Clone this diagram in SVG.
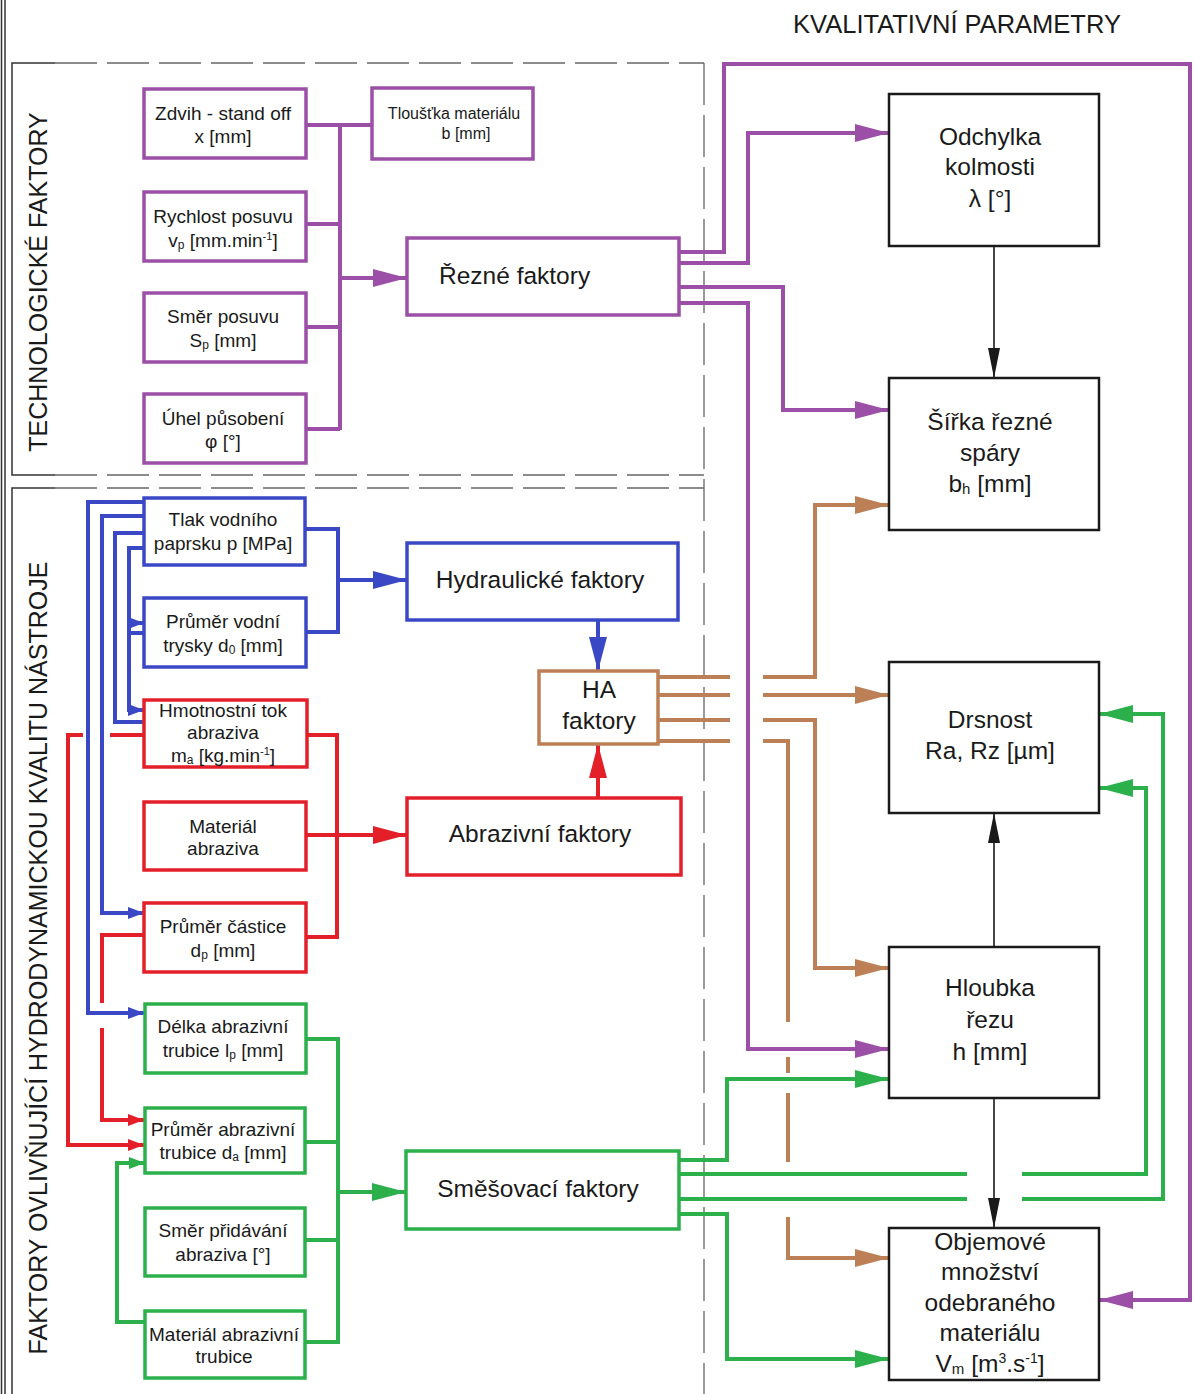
<svg xmlns="http://www.w3.org/2000/svg" width="1195" height="1394" viewBox="0 0 1195 1394">
<style>
text{font-family:"Liberation Sans",Arial,sans-serif;fill:#1a1a1a;text-anchor:middle}
.s{font-size:19px}
.m{font-size:16px}
.b{font-size:24.5px}
.v{font-size:25px}
.box{fill:#fff;stroke-width:3.5}
.kp{fill:#fff;stroke:#1a1a1a;stroke-width:2.5}
.P{stroke:#9b4fa6}.B{stroke:#3b48c6}.R{stroke:#e3202a}.G{stroke:#2bb04c}.N{stroke:#bd8056}
.c{fill:none;stroke-width:4}
.k{fill:none;stroke:#1a1a1a;stroke-width:1.6}
.fr{fill:none;stroke:#333;stroke-width:1.5}
.dash{fill:none;stroke:#666;stroke-width:1.3;stroke-dasharray:42 10}
</style>
<defs>
<marker id="aP" viewBox="0 0 34 18" refX="34" refY="9" markerWidth="34" markerHeight="18" markerUnits="userSpaceOnUse" orient="auto"><path d="M0,0L34,9L0,18z" fill="#9b4fa6"/></marker>
<marker id="aB" viewBox="0 0 34 18" refX="34" refY="9" markerWidth="34" markerHeight="18" markerUnits="userSpaceOnUse" orient="auto"><path d="M0,0L34,9L0,18z" fill="#3b48c6"/></marker>
<marker id="aR" viewBox="0 0 34 18" refX="34" refY="9" markerWidth="34" markerHeight="18" markerUnits="userSpaceOnUse" orient="auto"><path d="M0,0L34,9L0,18z" fill="#e3202a"/></marker>
<marker id="aG" viewBox="0 0 34 18" refX="34" refY="9" markerWidth="34" markerHeight="18" markerUnits="userSpaceOnUse" orient="auto"><path d="M0,0L34,9L0,18z" fill="#2bb04c"/></marker>
<marker id="aN" viewBox="0 0 34 18" refX="34" refY="9" markerWidth="34" markerHeight="18" markerUnits="userSpaceOnUse" orient="auto"><path d="M0,0L34,9L0,18z" fill="#bd8056"/></marker>
<marker id="sB" viewBox="0 0 16 12" refX="16" refY="6" markerWidth="16" markerHeight="12" markerUnits="userSpaceOnUse" orient="auto"><path d="M0,0L16,6L0,12z" fill="#3b48c6"/></marker>
<marker id="sR" viewBox="0 0 16 12" refX="16" refY="6" markerWidth="16" markerHeight="12" markerUnits="userSpaceOnUse" orient="auto"><path d="M0,0L16,6L0,12z" fill="#e3202a"/></marker>
<marker id="sG" viewBox="0 0 16 12" refX="16" refY="6" markerWidth="16" markerHeight="12" markerUnits="userSpaceOnUse" orient="auto"><path d="M0,0L16,6L0,12z" fill="#2bb04c"/></marker>
<marker id="aK" viewBox="0 0 30 12" refX="30" refY="6" markerWidth="30" markerHeight="12" markerUnits="userSpaceOnUse" orient="auto"><path d="M0,0L30,6L0,12z" fill="#1a1a1a"/></marker>
</defs>
<rect width="1195" height="1394" fill="#fff"/>
<g id="frames">
<line class="fr" x1="1.5" y1="0" x2="1.5" y2="1394"/>
<line class="fr" x1="5" y1="0" x2="5" y2="1394" stroke-width="1"/>
<path class="fr" d="M55,63H12V475H55"/>
<path class="dash" d="M55,63H704M55,475H704"/>
<path class="fr" d="M55,488H12V1394"/>
<path class="dash" d="M55,488H704"/>
<path class="dash" d="M704,63V1394"/>
<text class="v" transform="translate(47,282) rotate(-90)">TECHNOLOGICKÉ FAKTORY</text>
<text class="v" transform="translate(47,958) rotate(-90)">FAKTORY OVLIVŇUJÍCÍ HYDRODYNAMICKOU KVALITU NÁSTROJE</text>
<text class="v" x="957" y="33" style="font-size:25.5px">KVALITATIVNÍ PARAMETRY</text>
</g>
<g id="connectors">
<path class="c P" d="M306,125H372M340,125V430M306,224H340M306,327H340M306,429H340"/>
<path class="c P" d="M340,278H407" marker-end="url(#aP)"/>
<path class="c P" d="M679,252H724V64H1190V1300H1099" marker-end="url(#aP)"/>
<path class="c P" d="M679,263H748V133H889" marker-end="url(#aP)"/>
<path class="c P" d="M679,287H783V410H889" marker-end="url(#aP)"/>
<path class="c P" d="M679,303H748V1049H889" marker-end="url(#aP)"/>
<path class="c B" d="M305,529H338V632H306"/>
<path class="c B" d="M338,580H407" marker-end="url(#aB)"/>
<path class="c B" d="M598,620V671" marker-end="url(#aB)"/>
<path class="c B" d="M144,502H88V1013H144" marker-end="url(#sB)"/>
<path class="c B" d="M144,516H102V913H144" marker-end="url(#sB)"/>
<path class="c B" d="M144,533H115V722H144"/>
<path class="c B" d="M144,548H129V710H144" marker-end="url(#sB)"/>
<path class="c B" d="M129,623H144" marker-end="url(#sB)"/>
<path class="c B" d="M144,633H129"/>
<path class="c R" d="M307,735H337V937H306"/>
<path class="c R" d="M306,835H407" marker-end="url(#aR)"/>
<path class="c R" d="M598,798V744" marker-end="url(#aR)"/>
<path class="c R" d="M144,735H110"/>
<path class="c R" d="M83,735H68V1145H144" marker-end="url(#sR)"/>
<path class="c R" d="M144,935H102V1003"/>
<path class="c R" d="M102,1028V1120H144" marker-end="url(#sR)"/>
<path class="c N" d="M658,677H730M658,695H730M658,720H730M658,741H730"/>
<path class="c N" d="M763,677H815V505H889" marker-end="url(#aN)"/>
<path class="c N" d="M763,695H889" marker-end="url(#aN)"/>
<path class="c N" d="M763,720H815V968H889" marker-end="url(#aN)"/>
<path class="c N" d="M763,741H788V1022M788,1057V1073M788,1093V1162"/>
<path class="c N" d="M788,1217V1258H889" marker-end="url(#aN)"/>
<path class="c G" d="M306,1039H338V1342H305M305,1142H338M305,1240H338"/>
<path class="c G" d="M338,1192H406" marker-end="url(#aG)"/>
<path class="c G" d="M145,1322H117V1163H145" marker-end="url(#sG)"/>
<path class="c G" d="M679,1160H727V1079H889" marker-end="url(#aG)"/>
<path class="c G" d="M679,1174H967"/>
<path class="c G" d="M1022,1174H1146V788H1099" marker-end="url(#aG)"/>
<path class="c G" d="M679,1199H967"/>
<path class="c G" d="M1022,1199H1163V714H1099" marker-end="url(#aG)"/>
<path class="c G" d="M679,1214H727V1359H889" marker-end="url(#aG)"/>
<path class="k" d="M994,246V378" marker-end="url(#aK)"/>
<path class="k" d="M994,947V813" marker-end="url(#aK)"/>
<path class="k" d="M994,1098V1228" marker-end="url(#aK)"/>
</g>
<g id="n-zdvih"><rect class="box P" x="144" y="89" width="162" height="69"/><text class="s" x="223" y="120">Zdvih - stand off</text><text class="s" x="223" y="143">x [mm]</text></g>
<g id="n-rychlost"><rect class="box P" x="144" y="192" width="162" height="69"/><text class="s" x="223" y="223">Rychlost posuvu</text><text class="s" x="223" y="247">v<tspan font-size="12" dy="2">p</tspan><tspan dy="-2"> [mm.min</tspan><tspan font-size="11" dy="-7">-1</tspan><tspan dy="7">]</tspan></text></g>
<g id="n-smer"><rect class="box P" x="144" y="293" width="162" height="69"/><text class="s" x="223" y="323">Směr posuvu</text><text class="s" x="223" y="347">S<tspan font-size="12" dy="2">p</tspan><tspan dy="-2"> [mm]</tspan></text></g>
<g id="n-uhel"><rect class="box P" x="144" y="394" width="162" height="69"/><text class="s" x="223" y="425">Úhel působení</text><text class="s" x="223" y="448">φ [°]</text></g>
<g id="n-tloustka"><rect class="box P" x="372" y="88" width="161" height="71"/><text class="m" x="454" y="119">Tloušťka materiálu</text><text class="m" x="466" y="139">b [mm]</text></g>
<g id="n-rezne"><rect class="box P" x="407" y="238" width="272" height="77"/><text class="b" x="439" y="284" style="text-anchor:start">Řezné faktory</text></g>
<g id="n-tlak"><rect class="box B" x="144" y="498" width="161" height="67"/><text class="s" x="223" y="526">Tlak vodního</text><text class="s" x="223" y="550">paprsku p [MPa]</text></g>
<g id="n-prumer-vodni"><rect class="box B" x="144" y="598" width="162" height="69"/><text class="s" x="223" y="628">Průměr vodní</text><text class="s" x="223" y="652">trysky d<tspan font-size="12" dy="2">0</tspan><tspan dy="-2"> [mm]</tspan></text></g>
<g id="n-hydraulicke"><rect class="box B" x="407" y="543" width="271" height="77"/><text class="b" x="540" y="588">Hydraulické faktory</text></g>
<g id="n-hmotnostni"><rect class="box R" x="144" y="700" width="163" height="67"/><text class="s" x="223" y="717">Hmotnostní tok</text><text class="s" x="223" y="739">abraziva</text><text class="s" x="223" y="762">m<tspan font-size="12" dy="2">a</tspan><tspan dy="-2"> [kg.min</tspan><tspan font-size="11" dy="-7">-1</tspan><tspan dy="7">]</tspan></text></g>
<g id="n-material-abraziva"><rect class="box R" x="144" y="802" width="162" height="68"/><text class="s" x="223" y="833">Materiál</text><text class="s" x="223" y="855">abraziva</text></g>
<g id="n-prumer-castice"><rect class="box R" x="144" y="903" width="162" height="69"/><text class="s" x="223" y="933">Průměr částice</text><text class="s" x="223" y="957">d<tspan font-size="12" dy="2">p</tspan><tspan dy="-2"> [mm]</tspan></text></g>
<g id="n-abrazivni"><rect class="box R" x="407" y="798" width="274" height="77"/><text class="b" x="540" y="842">Abrazivní faktory</text></g>
<g id="n-ha"><rect class="box N" x="539" y="671" width="119" height="73"/><text class="b" x="599" y="698">HA</text><text class="b" x="599" y="729">faktory</text></g>
<g id="n-delka"><rect class="box G" x="145" y="1004" width="161" height="69"/><text class="s" x="223" y="1033">Délka abrazivní</text><text class="s" x="223" y="1057">trubice l<tspan font-size="12" dy="2">p</tspan><tspan dy="-2"> [mm]</tspan></text></g>
<g id="n-prumer-abrazivni"><rect class="box G" x="145" y="1108" width="160" height="65"/><text class="s" x="223" y="1136">Průměr abrazivní</text><text class="s" x="223" y="1159">trubice d<tspan font-size="12" dy="2">a</tspan><tspan dy="-2"> [mm]</tspan></text></g>
<g id="n-smer-pridavani"><rect class="box G" x="145" y="1208" width="160" height="68"/><text class="s" x="223" y="1237">Směr přidávání</text><text class="s" x="223" y="1261">abraziva [°]</text></g>
<g id="n-material-trubice"><rect class="box G" x="145" y="1311" width="160" height="67"/><text class="s" x="224" y="1341">Materiál abrazivní</text><text class="s" x="224" y="1363">trubice</text></g>
<g id="n-smesovaci"><rect class="box G" x="406" y="1151" width="273" height="78"/><text class="b" x="538" y="1197">Směšovací faktory</text></g>
<g id="n-odchylka"><rect class="kp" x="889" y="94" width="210" height="152"/><text class="b" x="990" y="145">Odchylka</text><text class="b" x="990" y="175">kolmosti</text><text class="b" x="990" y="207">λ [°]</text></g>
<g id="n-sirka"><rect class="kp" x="889" y="378" width="210" height="152"/><text class="b" x="990" y="430">Šířka řezné</text><text class="b" x="990" y="461">spáry</text><text class="b" x="990" y="492">b<tspan font-size="15" dy="2">h</tspan><tspan dy="-2"> [mm]</tspan></text></g>
<g id="n-drsnost"><rect class="kp" x="889" y="662" width="210" height="151"/><text class="b" x="990" y="728">Drsnost</text><text class="b" x="990" y="759">Ra, Rz [µm]</text></g>
<g id="n-hloubka"><rect class="kp" x="889" y="947" width="210" height="151"/><text class="b" x="990" y="996">Hloubka</text><text class="b" x="990" y="1028">řezu</text><text class="b" x="990" y="1060">h [mm]</text></g>
<g id="n-objemove"><rect class="kp" x="889" y="1228" width="210" height="152"/><text class="b" x="990" y="1250">Objemové</text><text class="b" x="990" y="1280">množství</text><text class="b" x="990" y="1311">odebraného</text><text class="b" x="990" y="1341">materiálu</text><text class="b" x="990" y="1372">V<tspan font-size="15" dy="2">m</tspan><tspan dy="-2"> [m</tspan><tspan font-size="14" dy="-9">3</tspan><tspan dy="9">.s</tspan><tspan font-size="14" dy="-9">-1</tspan><tspan dy="9">]</tspan></text></g>
</svg>
